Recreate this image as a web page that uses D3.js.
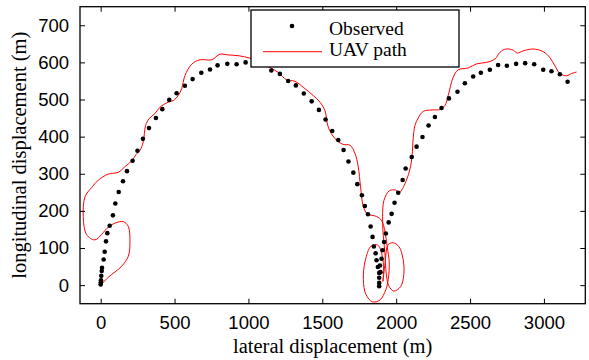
<!DOCTYPE html>
<html><head><meta charset="utf-8">
<script src="https://cdn.jsdelivr.net/npm/d3@7"></script>
<style>body{margin:0;background:#fff}svg{display:block}</style>
</head><body>
<svg id="c" width="589" height="360"></svg>
<script>
// Observed points (lateral m, longitudinal m)
const obsX = [0,1,2,4,7,9,20,27,36,45,61,83,99,122,151,178,216,249,286,327,374,417,464,514,570,622,681,740,791,857,920,981,1040,1098,1155,1213,1269,1321,1375,1428,1477,1522,1567,1608,1644,1677,1710,1737,1768,1788,1809,1827,1840,1849,1861,1867,1876,1885,1885,1885,1885,1890,1894,1901,1908,1918,1930,1949,1969,1989,2014,2044,2064,2105,2138,2178,2219,2262,2307,2357,2415,2465,2521,2573,2634,2690,2749,2812,2873,2934,2995,3051,3108,3160];
const obsY = [2,8,13,25,38,47,69,90,118,140,160,188,220,251,280,307,335,362,394,423,450,474,499,517,537,555,572,581,592,596,595,600,603,596,578,569,550,538,516,495,472,446,415,391,364,333,303,272,242,213,191,158,130,104,86,67,49,33,20,6,-3,53,35,71,94,116,139,169,192,222,249,283,314,345,373,399,430,453,477,503,521,544,562,572,580,593,591,596,598,595,580,576,568,548];
// UAV path
const pathX = [0,51,142,187,198,187,153,97,51,-39,-95,-118,-106,-61,-16,51,119,164,210,240,266,288,304,327,367,401,457,491,525,548,570,616,672,751,807,863,931,1015,1090,1150,1202,1258,1315,1371,1438,1484,1518,1540,1585,1641,1687,1721,1743,1759,1777,1804,1867,1901,1924,1939,1953,1946,1930,1890,1840,1795,1778,1790,1830,1875,1905,1915,1910,1925,1946,1980,2020,2047,2052,2030,1984,1949,1930,1924,1912,1908,1917,1953,1998,2020,2066,2097,2108,2115,2127,2149,2183,2250,2296,2330,2352,2386,2420,2487,2544,2612,2668,2702,2742,2792,2819,2859,2927,2995,3040,3074,3108,3153,3187,3221];
const pathY = [0,21,51,78,114,158,171,167,156,122,136,185,238,263,283,299,304,319,335,352,363,386,430,448,462,479,493,497,511,529,564,595,607,607,622,620,618,611,598,585,573,553,549,533,511,493,470,426,395,379,377,355,319,265,213,192,185,174,145,104,60,15,-12,-40,-45,-25,15,65,105,108,80,40,10,60,109,114,103,69,29,-4,-16,-1,42,87,136,185,228,254,256,249,279,319,350,395,430,450,468,472,473,484,511,560,580,585,596,600,609,627,636,633,625,631,636,629,613,591,570,564,570,574];
const xTicks = [0,500,1000,1500,2000,2500,3000];
const yTicks = [0,100,200,300,400,500,600,700];

const svg = d3.select("#c");
const L=80, R=585.3, T=6.7, B=303.7;
const x = d3.scaleLinear().domain([-140,3280]).range([L,R]);
const y = d3.scaleLinear().domain([-50,750]).range([B,T]);

svg.append("clipPath").attr("id","clip").append("rect")
  .attr("x",L).attr("y",T).attr("width",R-L).attr("height",B-T);

// path
const pts = pathX.map((v,i)=>[v,pathY[i]]);
svg.append("path").attr("clip-path","url(#clip)")
  .attr("d", d3.line().x(d=>x(d[0])).y(d=>y(d[1])).curve(d3.curveCatmullRom.alpha(0.5))(pts))
  .attr("fill","none").attr("stroke","#ff0000").attr("stroke-width",1);

// dots
svg.append("g").attr("clip-path","url(#clip)").selectAll("circle")
  .data(obsX.map((v,i)=>[v,obsY[i]])).join("circle")
  .attr("cx",d=>x(d[0])).attr("cy",d=>y(d[1])).attr("r",2.3).attr("fill","#000");

// axes (ticks inside)
const tl = 5;
const gB = svg.append("g").attr("transform",`translate(0,${B})`)
  .call(d3.axisBottom(x).tickValues(xTicks).tickSize(-tl).tickPadding(12).tickFormat(d3.format("d")));
const gT = svg.append("g").attr("transform",`translate(0,${T})`)
  .call(d3.axisTop(x).tickValues(xTicks).tickSize(-tl).tickFormat(""));
const gL = svg.append("g").attr("transform",`translate(${L},0)`)
  .call(d3.axisLeft(y).tickValues(yTicks).tickSize(-tl).tickPadding(11).tickFormat(d3.format("d")));
const gR = svg.append("g").attr("transform",`translate(${R},0)`)
  .call(d3.axisRight(y).tickValues(yTicks).tickSize(-tl).tickFormat(""));
[gB,gT,gL,gR].forEach(g=>{
  g.select(".domain").remove();
  g.selectAll("line").attr("stroke","#000").attr("stroke-width",1);
  g.selectAll("text").attr("font-family","'Liberation Sans', Arial, sans-serif").attr("font-size",18.5).attr("fill","#000");
});
svg.append("rect").attr("x",L).attr("y",T).attr("width",R-L).attr("height",B-T)
  .attr("fill","none").attr("stroke","#000").attr("stroke-width",1.3);

// titles
svg.append("text").attr("x",(L+R)/2).attr("y",353).attr("text-anchor","middle")
  .attr("font-family","'Liberation Serif', 'Times New Roman', serif").attr("font-size",20.5)
  .text("lateral displacement (m)");
svg.append("text").attr("transform",`translate(26,${(T+B)/2}) rotate(-90)`).attr("text-anchor","middle")
  .attr("font-family","'Liberation Serif', 'Times New Roman', serif").attr("font-size",20.5)
  .text("longitudinal displacement (m)");

// legend
const lg = svg.append("g");
lg.append("rect").attr("x",251).attr("y",10).attr("width",208).attr("height",57)
  .attr("fill","#fff").attr("stroke","#000").attr("stroke-width",1.3);
lg.append("circle").attr("cx",292).attr("cy",26).attr("r",2.3).attr("fill","#000");
lg.append("line").attr("x1",263).attr("x2",322).attr("y1",51.7).attr("y2",51.7).attr("stroke","#ff0000").attr("stroke-width",1);
lg.append("text").attr("x",329).attr("y",35).attr("font-family","'Liberation Serif', serif").attr("font-size",19.5).text("Observed");
lg.append("text").attr("x",329).attr("y",56).attr("font-family","'Liberation Serif', serif").attr("font-size",19.5).text("UAV path");
</script>
</body></html>
